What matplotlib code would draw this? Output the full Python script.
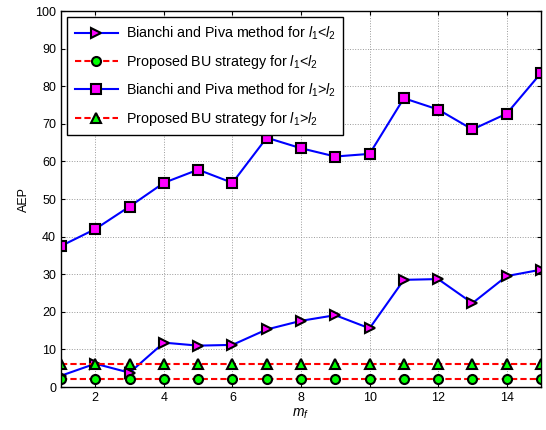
import matplotlib
matplotlib.use("Agg")
import matplotlib.pyplot as plt
import numpy as np

plt.rcParams['font.family'] = ['Liberation Sans', 'DejaVu Sans']
plt.rcParams['mathtext.fontset'] = 'custom'
plt.rcParams['mathtext.rm'] = 'Liberation Sans'
plt.rcParams['mathtext.it'] = 'Liberation Sans:italic'

mf = list(range(1, 16))
bp_less = [3.0, 6.2, 3.8, 11.8, 11.0, 11.2, 15.3, 17.6, 19.1, 15.6, 28.5, 28.7, 22.3, 29.5, 31.2]
bu_less = [2.0] * 15
bp_greater = [37.5, 42.0, 48.0, 54.3, 57.8, 54.3, 66.3, 63.5, 61.3, 62.0, 76.8, 73.8, 68.5, 72.7, 83.5]
bu_greater = [6.0] * 15
labels = [r'Bianchi and Piva method for $l_1$<$l_2$',
          r'Proposed BU strategy for $l_1$<$l_2$',
          r'Bianchi and Piva method for $l_1$>$l_2$',
          r'Proposed BU strategy for $l_1$>$l_2$']

fig = plt.figure(figsize=(5.46, 4.30), dpi=100)
ax = fig.add_axes([61/546, 1-387/430, (541-61)/546, (387-11)/430])

ms = 6.5
dash = (3, 1.5)
ax.plot(mf, bp_less, '-', color='blue', lw=1.5, marker='>', ms=ms, mfc='magenta', mec='black', mew=1.5, label=labels[0])
ax.plot(mf, bu_less, '--', color='red', lw=1.5, dashes=dash, marker='o', ms=ms, mfc='#00ff00', mec='black', mew=1.5, label=labels[1])
ax.plot(mf, bp_greater, '-', color='blue', lw=1.5, marker='s', ms=ms, mfc='magenta', mec='black', mew=1.5, label=labels[2])
ax.plot(mf, bu_greater, '--', color='red', lw=1.5, dashes=dash, marker='^', ms=ms, mfc='#00ff00', mec='black', mew=1.5, label=labels[3])

ax.set_xlim(1, 15)
ax.set_ylim(0, 100)
ax.set_xticks(range(2, 15, 2))
ax.set_yticks(range(0, 101, 10))
ax.tick_params(direction='in', top=True, right=True, labelsize=9, length=3)
ax.grid(True, color='#999999', linestyle=':', linewidth=0.7)
for s in ax.spines.values():
    s.set_linewidth(1.0)
ax.set_xlabel(r'$m_f$', fontsize=10, labelpad=2)
ax.set_ylabel('AEP', fontsize=9, labelpad=4)

leg = ax.legend(loc='upper left', fontsize=10.3, frameon=True, fancybox=False,
                edgecolor='black', framealpha=1, borderaxespad=0.45,
                handlelength=3.0, handletextpad=0.6, labelspacing=0.75, borderpad=0.5)
leg.get_frame().set_linewidth(1.0)

fig.savefig('out.png', dpi=100)
